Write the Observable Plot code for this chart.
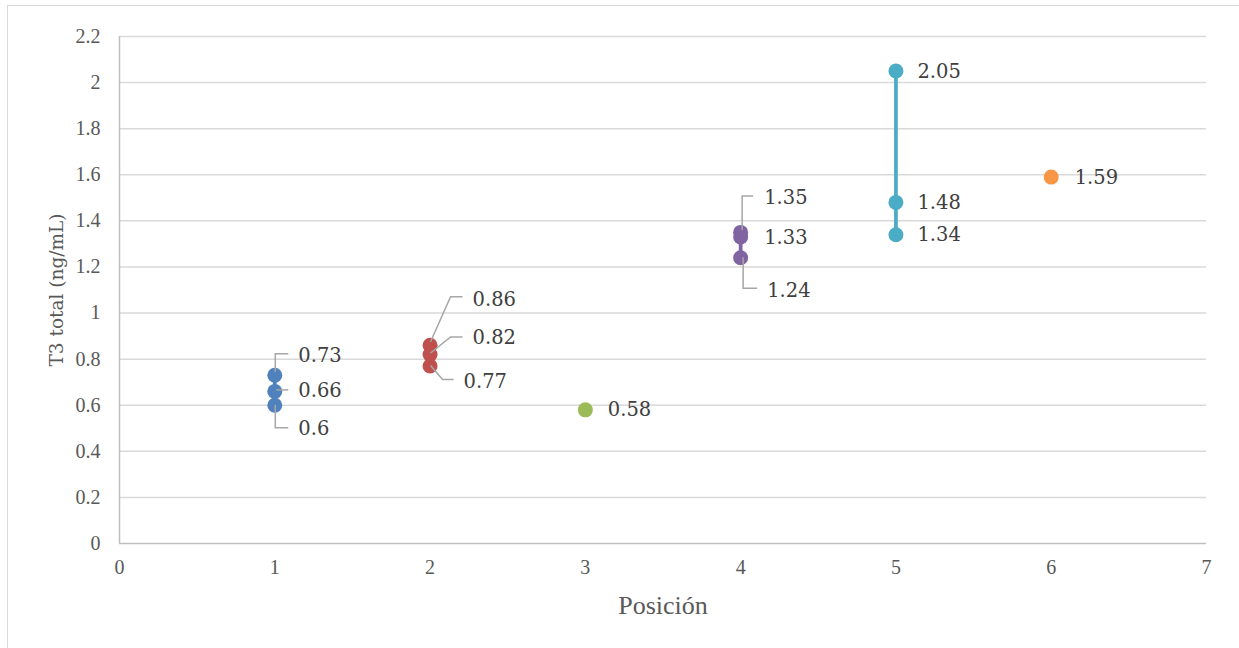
<!DOCTYPE html>
<html>
<head>
<meta charset="utf-8">
<script src="https://cdn.jsdelivr.net/npm/d3@7"></script>
<script src="https://cdn.jsdelivr.net/npm/@observablehq/plot@0.6"></script>
<style>
  html, body { margin: 0; padding: 0; background: #fff; }
  #chart { position: relative; width: 1239px; height: 648px; overflow: hidden; background: #fff; }
  #chart .outline { position: absolute; left: 7px; top: 5px; width: 1400px; height: 800px; border: 1.5px solid #d9d9d9; pointer-events: none; }
  #chart svg { position: absolute; left: 0; top: 0; }
</style>
</head>
<body>
<div id="chart"><div class="outline"></div></div>
<script>
// T3 total (ng/mL) measured at each position
const posiciones = [1, 2, 3, 4, 5, 6];
const serie1 = [0.73, 0.66, 0.6];
const serie2 = [0.86, 0.82, 0.77];
const serie3 = [0.58];
const serie4 = [1.35, 1.33, 1.24];
const serie5 = [2.05, 1.48, 1.34];
const serie6 = [1.59];
const colores = ["#4F81BD", "#C0504D", "#9BBB59", "#8064A2", "#4BACC6", "#F79646"];

const xTicks = [0, 1, 2, 3, 4, 5, 6, 7];
const yTicks = [0, 0.2, 0.4, 0.6, 0.8, 1, 1.2, 1.4, 1.6, 1.8, 2, 2.2];

// Placement of each data label relative to its point (pixels):
// text offset and optional leader polyline.
const labelLayout = [
  {dx: 24, dy: -20, leader: [[1, -3], [1, -21], [14, -21]]},
  {dx: 24, dy: -1,  leader: [[2, -1], [14, -1]]},
  {dx: 24, dy: 23,  leader: [[1, 0], [1, 23], [14, 23]]},
  {dx: 43, dy: -46, leader: [[1, -3], [21, -48], [33, -48]]},
  {dx: 43, dy: -17, leader: [[1, -1], [21, -17], [33, -17]]},
  {dx: 34, dy: 15,  leader: [[1, 0], [13, 14], [24, 14]]},
  {dx: 23, dy: 0},
  {dx: 24, dy: -35, leader: [[2, -2], [2, -36], [13, -36]]},
  {dx: 24, dy: 0},
  {dx: 27, dy: 33,  leader: [[3, 0], [3, 31], [17, 31]]},
  {dx: 22, dy: 0},
  {dx: 22, dy: 0},
  {dx: 22, dy: 0},
  {dx: 24, dy: 0}
];

const series = [serie1, serie2, serie3, serie4, serie5, serie6];
const rows = series.flatMap((vals, s) =>
  vals.map(v => ({pos: posiciones[s], t3: v, serie: s, color: colores[s]}))
);

// Data labels with leader lines, placed through the plot's scales
const dataLabels = (index, scales) => {
  const g = d3.create("svg:g");
  rows.forEach((d, i) => {
    const px = scales.x(d.pos), py = scales.y(d.t3);
    const L = labelLayout[i];
    if (L.leader) {
      g.append("polyline")
        .attr("points", L.leader.map(([a, b]) => `${px + a},${py + b}`).join(" "))
        .attr("fill", "none")
        .attr("stroke", "#a6a6a6")
        .attr("stroke-width", 1.5);
    }
    g.append("text")
      .attr("x", px + L.dx)
      .attr("y", py + L.dy)
      .attr("dy", "0.36em")
      .attr("text-anchor", "start")
      .attr("fill", "#404040")
      .attr("font-family", "'DejaVu Serif', serif")
      .attr("font-size", "19.5px")
      .text(String(d.t3));
  });
  return g.node();
};

const chart = Plot.plot({
  width: 1239,
  height: 648,
  marginLeft: 119,
  marginRight: 33,
  marginTop: 36,
  marginBottom: 105,
  style: {
    fontFamily: "'Liberation Serif', serif",
    fontSize: "20px",
    color: "#595959",
    background: "transparent",
    overflow: "visible"
  },
  color: {type: "identity"},
  x: {domain: [0, 7], ticks: xTicks, tickSize: 0, tickPadding: 16, label: null,
      tickFormat: d => String(d)},
  y: {domain: [0, 2.2], ticks: yTicks, tickSize: 0, tickPadding: 19, label: null,
      tickFormat: d => String(+d.toFixed(1))},
  marks: [
    Plot.ruleY(yTicks.filter(v => v > 0), {stroke: "#d9d9d9", strokeWidth: 1.5}),
    Plot.ruleX([0], {stroke: "#bfbfbf", strokeWidth: 1.5}),
    Plot.ruleY([0], {stroke: "#bfbfbf", strokeWidth: 1.5}),
    Plot.line(rows, {x: "pos", y: "t3", z: "serie", stroke: "color", strokeWidth: 3.75}),
    Plot.dot(rows, {x: "pos", y: "t3", fill: "color", r: 7.5}),
    dataLabels,
    Plot.text(["Posición"], {frameAnchor: "bottom", dy: 62, text: d => d,
      textAnchor: "middle", lineAnchor: "middle", fontSize: 26, fill: "#595959"}),
    Plot.text(["T3 total (ng/mL)"], {frameAnchor: "left", dx: -62, rotate: -90, text: d => d,
      textAnchor: "middle", lineAnchor: "middle", fontSize: 18.5, fill: "#595959",
      fontFamily: "'DejaVu Serif', serif"})
  ]
});

document.getElementById("chart").appendChild(chart);
</script>
</body>
</html>
